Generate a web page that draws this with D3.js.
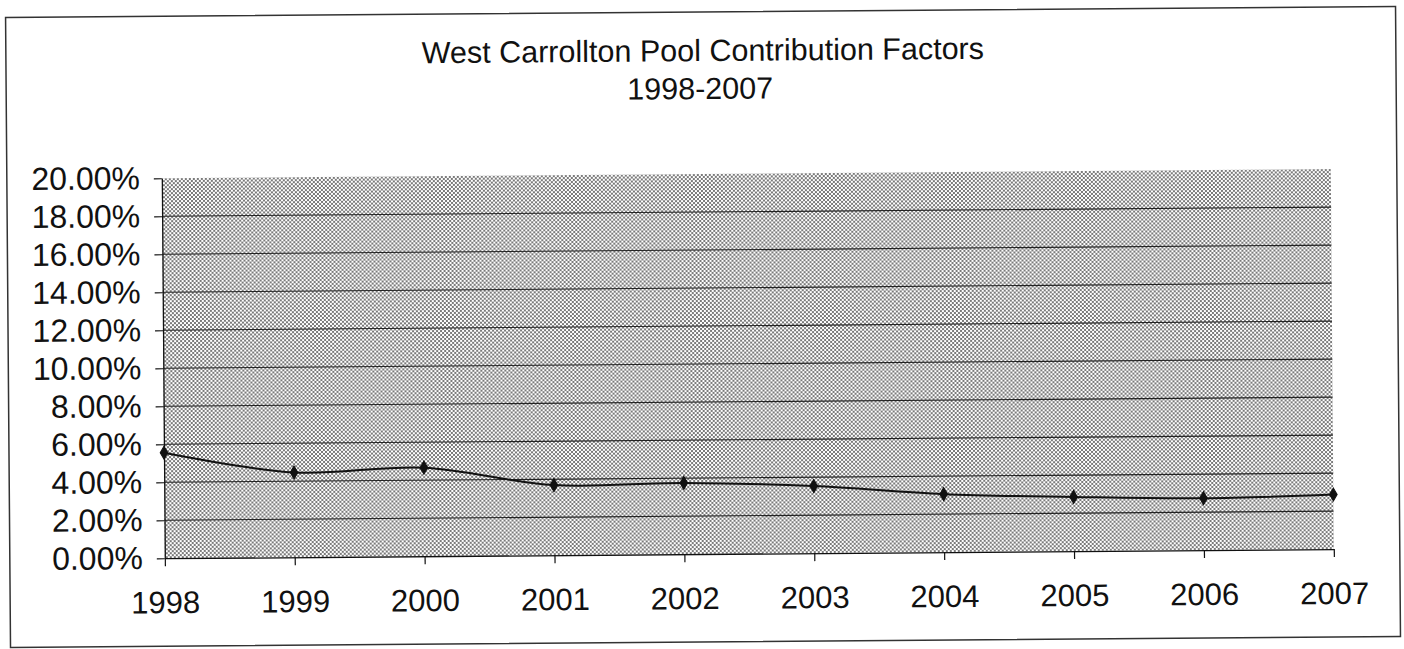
<!DOCTYPE html>
<html>
<head>
<meta charset="utf-8">
<script src="https://cdn.jsdelivr.net/npm/d3@7"></script>
<style>
  html, body { margin: 0; padding: 0; background: #fff; }
  svg { display: block; }
  text { font-family: "Liberation Sans", Arial, Helvetica, sans-serif; fill: #111; }
</style>
</head>
<body>
<svg id="chart" width="1404" height="649"></svg>
<script>
// ---- data ----
const years = ["1998", "1999", "2000", "2001", "2002", "2003", "2004", "2005", "2006", "2007"];
const factors = [0.0555, 0.0446, 0.0466, 0.0369, 0.0375, 0.0353, 0.0305, 0.0285, 0.0273, 0.0287];
const yTicks = [0, 0.02, 0.04, 0.06, 0.08, 0.10, 0.12, 0.14, 0.16, 0.18, 0.20];
const gridValues = [0.02, 0.04, 0.06, 0.08, 0.10, 0.12, 0.14, 0.16, 0.18];
const titleLines = ["West Carrollton Pool Contribution Factors", "1998-2007"];

// ---- layout ----
const plot = { left: 163, right: 1332, top: 174, bottom: 554 };

const svg = d3.select("#chart");

// stipple pattern for plot area
const defs = svg.append("defs");
const pat = defs.append("pattern")
  .attr("id", "stipple")
  .attr("patternUnits", "userSpaceOnUse")
  .attr("width", 4).attr("height", 4);
pat.append("rect").attr("width", 4).attr("height", 4).attr("fill", "#ffffff");
pat.append("rect").attr("x", 0).attr("y", 0).attr("width", 2).attr("height", 2).attr("fill", "#7a7a7a");
pat.append("rect").attr("x", 2).attr("y", 2).attr("width", 2).attr("height", 2).attr("fill", "#7a7a7a");

// whole chart slightly rotated, as in the scanned original
const g = svg.append("g").attr("transform", "rotate(-0.45, 702, 324)");

// outer chart border
g.append("rect")
  .attr("x", 8).attr("y", 12)
  .attr("width", 1390).attr("height", 630)
  .attr("fill", "none")
  .attr("stroke", "#333")
  .attr("stroke-width", 1.5);

// title
g.append("text")
  .attr("x", 705).attr("y", 61)
  .attr("text-anchor", "middle")
  .style("font-size", "30.5px")
  .text(titleLines[0]);
g.append("text")
  .attr("x", 702).attr("y", 99)
  .attr("text-anchor", "middle")
  .style("font-size", "30.5px")
  .text(titleLines[1]);

// scales
const x = d3.scalePoint().domain(years).range([plot.left, plot.right]);
const y = d3.scaleLinear().domain([0, 0.20]).range([plot.bottom, plot.top]);

// plot area
g.append("rect")
  .attr("x", plot.left).attr("y", plot.top)
  .attr("width", plot.right - plot.left).attr("height", plot.bottom - plot.top)
  .attr("fill", "url(#stipple)");

// gridlines
g.append("g").selectAll("line")
  .data(gridValues)
  .join("line")
  .attr("x1", plot.left).attr("x2", plot.right)
  .attr("y1", d => y(d)).attr("y2", d => y(d))
  .attr("stroke", "#222")
  .attr("stroke-width", 1.2);

// y axis
const yAxis = g.append("g")
  .attr("transform", `translate(${plot.left},0)`)
  .call(d3.axisLeft(y).tickValues(yTicks).tickFormat(d3.format(".2%"))
    .tickSize(8).tickSizeOuter(0).tickPadding(14));
yAxis.select(".domain").attr("stroke", "#111").attr("stroke-width", 1.3);
yAxis.selectAll(".tick line").attr("stroke", "#111").attr("stroke-width", 1.2);
yAxis.selectAll(".tick text")
  .style("font-size", "32px")
  .style("font-family", "'Liberation Sans', Arial, sans-serif")
  .attr("fill", "#111")
  .attr("dy", "0.32em");

// x axis
const xAxis = g.append("g")
  .attr("transform", `translate(0,${plot.bottom})`)
  .call(d3.axisBottom(x).tickSize(8).tickSizeOuter(0).tickPadding(25));
xAxis.select(".domain").attr("stroke", "#111").attr("stroke-width", 1.3);
xAxis.selectAll(".tick line").attr("stroke", "#111").attr("stroke-width", 1.2);
xAxis.selectAll(".tick text")
  .style("font-size", "31px")
  .style("font-family", "'Liberation Sans', Arial, sans-serif")
  .attr("fill", "#111");

// series line (smoothed)
const line = d3.line()
  .x((d, i) => x(years[i]))
  .y(d => y(d))
  .curve(d3.curveCatmullRom.alpha(0.5));
g.append("path")
  .datum(factors)
  .attr("d", line)
  .attr("fill", "none")
  .attr("stroke", "#111")
  .attr("stroke-width", 2);

// diamond markers
const diamond = d3.symbol().type(d3.symbolDiamond).size(50);
g.append("g").selectAll("path")
  .data(factors)
  .join("path")
  .attr("d", diamond)
  .attr("transform", (d, i) => `translate(${x(years[i])},${y(d)})`)
  .attr("fill", "#111")
  .attr("stroke", "#111")
  .attr("stroke-width", 1);
</script>
</body>
</html>
